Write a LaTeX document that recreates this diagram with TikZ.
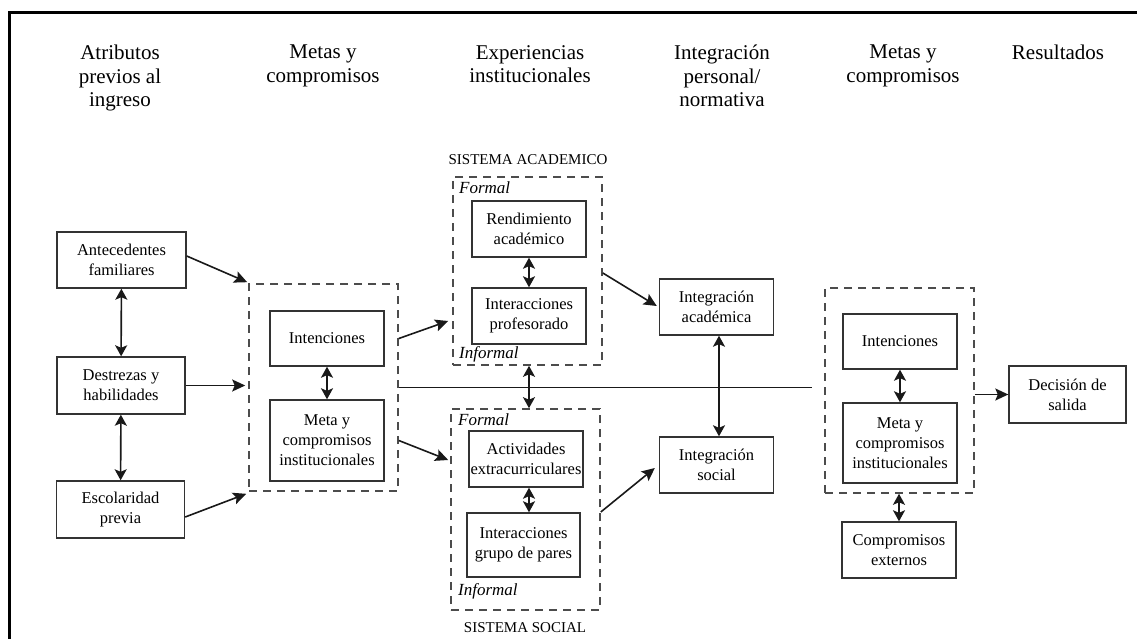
\documentclass[tikz,border=0pt]{standalone}
\usepackage{fontspec}
\setmainfont{Liberation Serif}
\usetikzlibrary{arrows.meta,calc}

\begin{document}
\begin{tikzpicture}[x=1pt,y=-1pt,
  box/.style={draw=black!80, line width=1.4pt, align=center, inner sep=0pt,
    font=\fontsize{16.5}{20}\selectfont},
  group/.style={draw=black!70, dash pattern=on 8pt off 6pt, line width=1.6pt, inner sep=0pt},
  head/.style={align=center, inner sep=0pt, font=\fontsize{21}{23.5}\selectfont},
  tag/.style={inner sep=0pt, anchor=west, font=\fontsize{17}{18}\selectfont\itshape},
  sys/.style={inner sep=0pt, font=\fontsize{15}{16}\selectfont},
  arr/.style={-{Stealth[length=13pt,width=12pt,inset=2.5pt]}, line width=1.6pt, draw=black!90},
  darr/.style={{Stealth[length=11pt,width=12pt,inset=2.5pt]}-{Stealth[length=11pt,width=12pt,inset=2.5pt]},
    line width=1.6pt, draw=black!90},
  plain/.style={line width=1.8pt, draw=black!90}]

\useasboundingbox (0,0) rectangle (1137,639);

% frame
\draw[line width=3pt] (9.5,639) -- (9.5,13) -- (1137,13);

% column headings
\node[head, anchor=north] (h1) at (120,45) {Atributos\\previos al\\ingreso};
\node[head, anchor=north] (h2) at (323,45) {Metas y\\compromisos};
\node[head, anchor=north] (h3) at (530,45) {Experiencias\\institucionales};
\node[head, anchor=north] (h4) at (722,45) {Integración\\personal/\\normativa};
\node[head, anchor=north] (h5) at (903,45) {Metas y\\compromisos};
\node[head, anchor=north] (h6) at (1058,45) {Resultados};

% prior attributes
\node[box, minimum width=129pt, minimum height=56pt] (ant) at (121.5,260) {Antecedentes\\familiares};
\node[box, minimum width=128pt, minimum height=57pt] (des) at (121,385.5) {Destrezas y\\habilidades};
\node[box, minimum width=128pt, minimum height=57pt] (esc) at (120.5,509.5) {Escolaridad\\previa};

% initial goals and commitments
\node[group, minimum width=149pt, minimum height=207pt] (lgoal) at (323.5,387.5) {};
\node[box, minimum width=114pt, minimum height=55pt] (lint) at (327,338.5) {Intenciones};
\node[box, minimum width=114pt, minimum height=81pt] (lmeta) at (327,440.5) {Meta y\\compromisos\\institucionales};

% academic system
\node[group, minimum width=149pt, minimum height=188pt] (acad) at (527.5,271) {};
\node[box, minimum width=114pt, minimum height=56pt] (rend) at (529,229) {Rendimiento\\académico};
\node[box, minimum width=114pt, minimum height=56pt] (prof) at (529,316) {Interacciones\\profesorado};
\node[tag] (af) at (459,188) {Formal};
\node[tag] (ai) at (459,354) {Informal};
\node[sys] (asys) at (528,160) {SISTEMA ACADEMICO};

% social system
\node[group, minimum width=149pt, minimum height=201pt] (soc) at (525.5,509.5) {};
\node[box, minimum width=114pt, minimum height=56pt] (extra) at (526,459) {Actividades\\extracurriculares};
\node[box, minimum width=113pt, minimum height=64pt] (pares) at (523.5,545) {Interacciones\\grupo de pares};
\node[tag] (sf) at (458,420) {Formal};
\node[tag] (si) at (458,591) {Informal};
\node[sys] (ssys) at (525,628) {SISTEMA SOCIAL};

% integration
\node[box, minimum width=114pt, minimum height=56pt] (iacad) at (716.5,307) {Integración\\académica};
\node[box, minimum width=114pt, minimum height=56pt] (isoc) at (716.5,465) {Integración\\social};

% later goals and commitments
\node[group, minimum width=149pt, minimum height=205pt] (rgoal) at (899.5,390.5) {};
\node[box, minimum width=114pt, minimum height=55pt] (rint) at (900,341.5) {Intenciones};
\node[box, minimum width=114pt, minimum height=80pt] (rmeta) at (900,443) {Meta y\\compromisos\\institucionales};
\node[box, minimum width=114pt, minimum height=56pt] (ext) at (899,550) {Compromisos\\externos};

% outcome
\node[box, minimum width=117pt, minimum height=57pt] (dec) at (1067.5,394.5) {Decisión de\\salida};

% connectors
\draw[darr] (ant) -- (des);
\draw[darr] (des) -- (esc);
\draw[arr] ($(ant.east)+(0,-4)$) -- ($(lgoal.north west)+(-1,-1)$);
\draw[arr] (des.east) -- ($(des.east -| lgoal.west)+(-3,0)$);
\draw[arr] ($(esc.east)+(0,7.5)$) -- ($(lgoal.south west)+(-2,2)$);

\draw[darr] (lint) -- (lmeta);
\draw[darr] (rend) -- (prof);
\draw[darr] (extra.south -| 529,0) -- (pares.north -| 529,0);
\draw[darr] (rint) -- (rmeta);
\draw[darr] (ext.north) -- (ext.north |- rgoal.south);

\draw[arr] (lgoal.east |- lint.center) -- ($(acad.west)+(-4,50)$);
\draw[arr] (lgoal.east |- lmeta.center) -- ($(soc.west |- extra.center)+(-2,1)$);
\draw[plain] (lgoal.east) -- ($(lgoal.east -| rgoal.west)+(-12,0)$);

\draw[darr] (rend |- acad.south) -- (rend |- soc.north);
\draw[darr] ($(iacad.south)+(2.5,0)$) -- ($(isoc.north)+(2.5,0)$);

\draw[arr] ($(acad.east)+(0,2)$) -- ($(iacad.west)+(-2,-1)$);
\draw[arr] ($(soc.east)+(0,2.5)$) -- ($(isoc.west)+(-4,3)$);

\draw[arr] (rgoal.east |- dec.west) -- (dec.west);
\end{tikzpicture}
\end{document}
